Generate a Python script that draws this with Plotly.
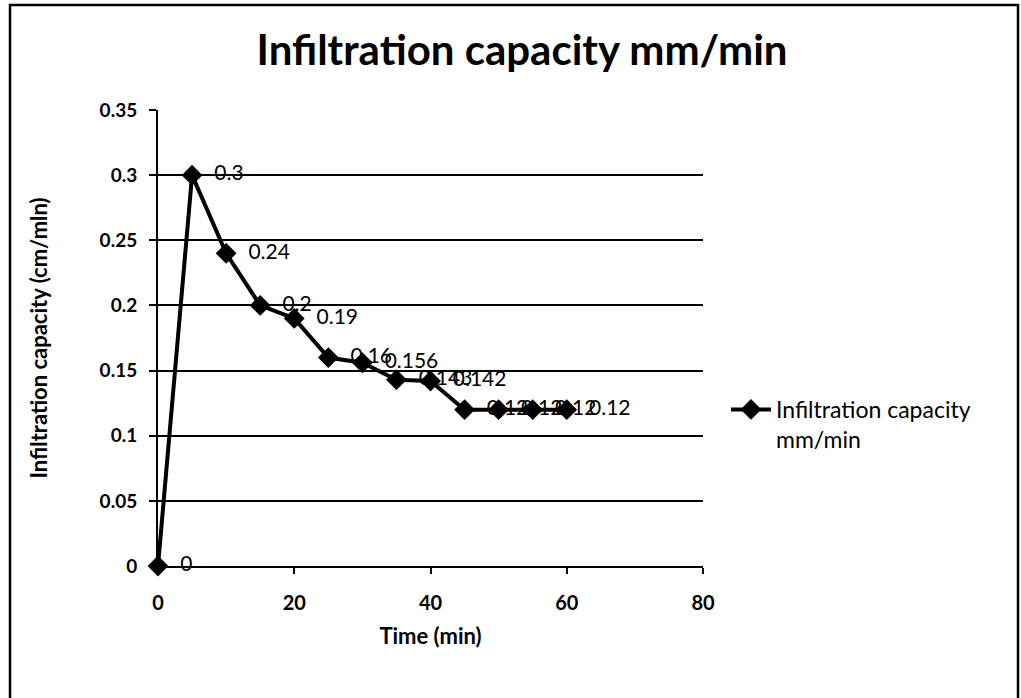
import plotly.graph_objects as go

time_min = [0, 5, 10, 15, 20, 25, 30, 35, 40, 45, 50, 55, 60]
infiltration = [0, 0.3, 0.24, 0.2, 0.19, 0.16, 0.156, 0.143, 0.142, 0.12, 0.12, 0.12, 0.12]
y_ticks = [0, 0.05, 0.1, 0.15, 0.2, 0.25, 0.3, 0.35]
y_tick_text = ["0", "0.05", "0.1", "0.15", "0.2", "0.25", "0.3", "0.35"]
x_ticks = [0, 20, 40, 60, 80]
series_name = "Infiltration capacity<br>mm/min"
title = "Infiltration capacity mm/min"

W, H = 1021, 698
L, R, T, B = 158, 703, 110, 566


def px(x):
    return (x - L) / (R - L)


def py(y):
    return (B - y) / (B - T)


FONT = "Lato"

fig = go.Figure()
fig.add_trace(go.Scatter(
    x=time_min, y=infiltration, mode="lines+markers",
    name=series_name,
    line=dict(color="black", width=4),
    marker=dict(symbol="diamond", size=16, color="black"),
    cliponaxis=False,
))
# data labels (invisible larger marker pushes label away from the point)
fig.add_trace(go.Scatter(
    x=time_min, y=infiltration, mode="markers+text",
    text=[f"{v:g}" for v in infiltration],
    textposition="middle right",
    textfont=dict(family=FONT, size=21, color="black"),
    marker=dict(size=34, color="rgba(0,0,0,0)"),
    showlegend=False, hoverinfo="skip",
    cliponaxis=False,
))

fig.update_layout(
    width=W, height=H,
    margin=dict(l=L, r=W - R, t=T, b=H - B, autoexpand=False),
    paper_bgcolor="white", plot_bgcolor="white",
    font=dict(family=FONT, color="black"),
    title=dict(text="<b>" + title + "</b>", x=px(522), xref="paper", xanchor="center",
               y=1 - 50 / H, yanchor="middle",
               font=dict(family=FONT, size=42, color="black")),
    showlegend=True,
    legend=dict(x=px(726), y=py(388), xanchor="left", yanchor="top",
                font=dict(family=FONT, size=23, color="black"),
                bgcolor="rgba(0,0,0,0)", itemwidth=40, valign="top",
                tracegroupgap=0),
    xaxis=dict(range=[0, 80], tickvals=x_ticks, showgrid=False, zeroline=False,
               showline=True, linecolor="black", linewidth=1.5,
               ticks="outside", ticklen=6, tickcolor="black", tickwidth=1.5,
               ticklabelstandoff=12,
               tickfont=dict(family=FONT, size=20, color="black", weight="bold"),
               title=dict(text="<b>Time (min)</b>", standoff=16,
                          font=dict(family=FONT, size=22, color="black"))),
    yaxis=dict(range=[0, 0.35], tickvals=y_ticks, ticktext=y_tick_text,
               showgrid=True, gridcolor="black", gridwidth=1.5, zeroline=False,
               showline=True, linecolor="black", linewidth=2,
               ticks="outside", ticklen=7, tickcolor="black", tickwidth=1.5,
               ticklabelstandoff=8,
               tickfont=dict(family=FONT, size=19, color="black", weight="bold"),
               title=dict(text="<b>Infiltration capacity (cm/mln)</b>", standoff=46,
                          font=dict(family=FONT, size=22, color="black"))),
    shapes=[dict(type="rect", xref="paper", yref="paper",
                 x0=px(10), x1=px(1018), y0=py(705), y1=py(5),
                 line=dict(color="black", width=2.5), layer="below")],
)

fig.write_html("out.html")
